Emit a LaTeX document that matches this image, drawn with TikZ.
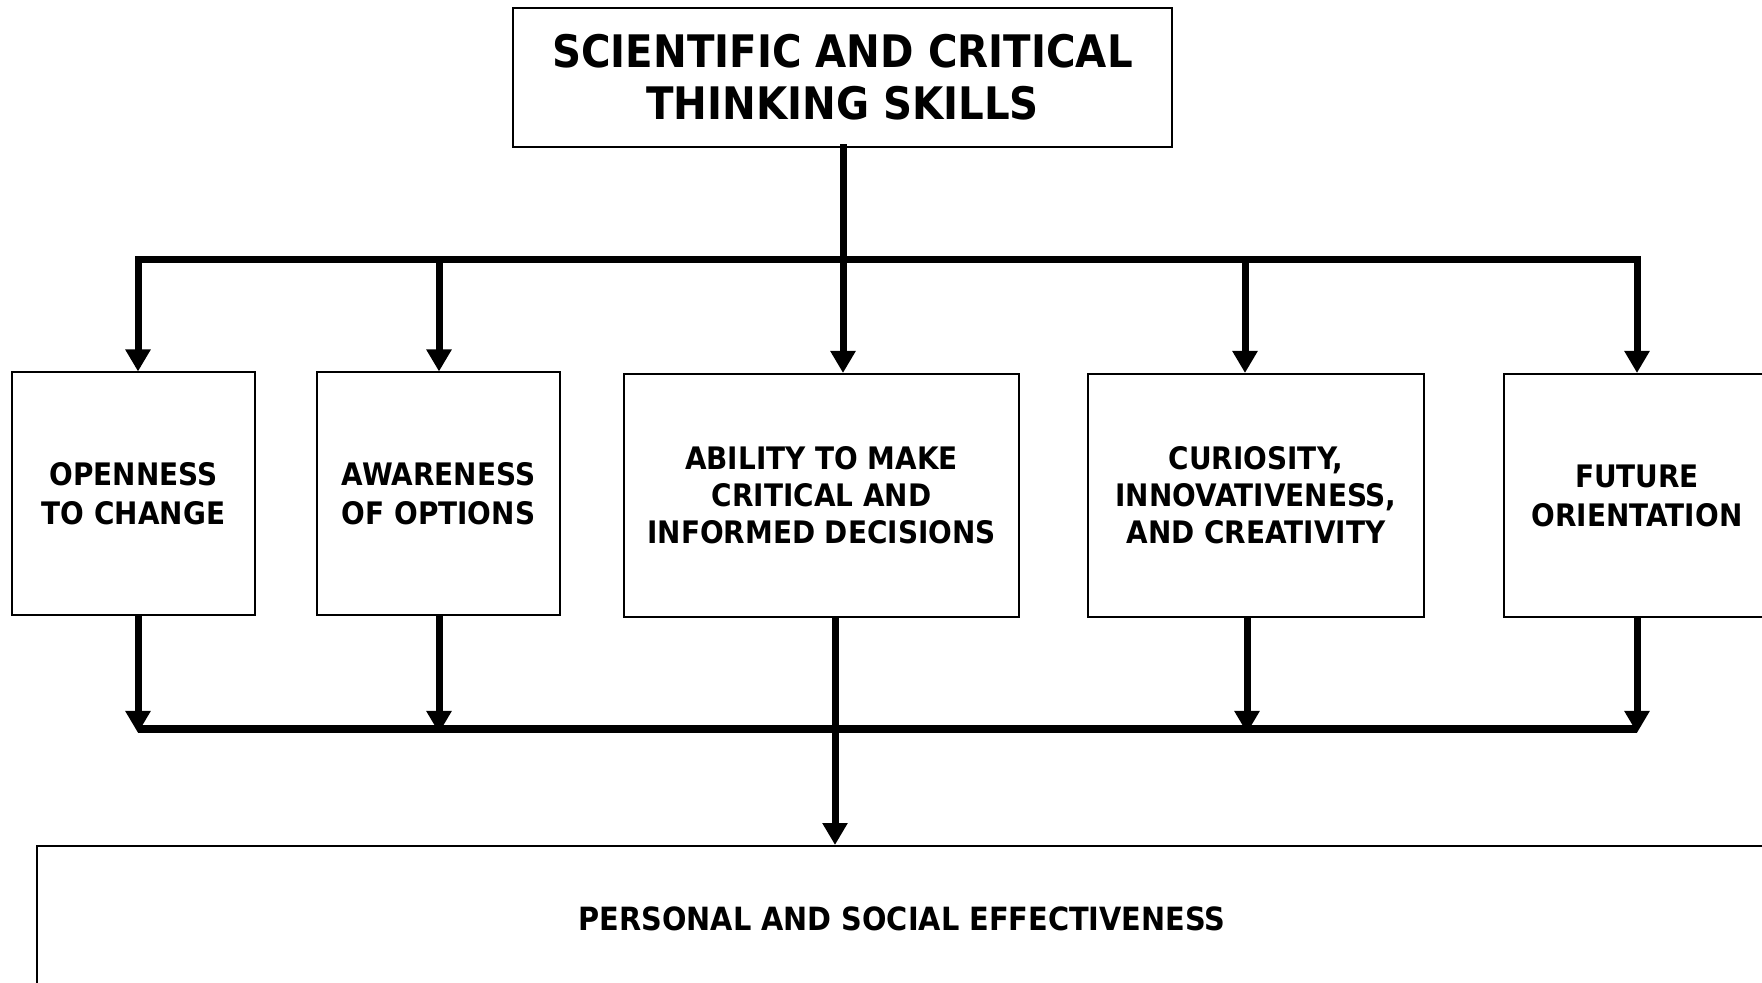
\documentclass[tikz,border=0pt]{standalone}
\usepackage{fontspec}
\setmainfont{DejaVu Sans}[FakeStretch=0.9]
\usetikzlibrary{arrows.meta}
\tikzset{
  skillbox/.style={draw, line width=1pt, inner sep=0pt, align=center,
    minimum height=121.5pt, font=\bfseries\fontsize{15.5}{18.5}\selectfont},
  flow/.style={line width=3.5pt, -{Triangle[length=11pt,width=12pt]}},
  bus/.style={line width=3.5pt, line cap=rect}
}
\begin{document}
\begin{tikzpicture}[x=0.5pt, y=-0.5pt]
  \useasboundingbox (0,0) rectangle (1762,983);
  \node[skillbox, minimum width=329.5pt, minimum height=69.5pt,
    font=\bfseries\fontsize{22.4}{25.9}\selectfont] (top) at (842.5,77.5)
    {SCIENTIFIC AND CRITICAL\\THINKING SKILLS};
  \node[skillbox, minimum width=121.5pt, font=\bfseries\fontsize{15.5}{19.5}\selectfont]
    (open) at (133.5,494) {OPENNESS\\TO CHANGE};
  \node[skillbox, minimum width=121.5pt, font=\bfseries\fontsize{15.5}{19.5}\selectfont]
    (aware) at (438.5,494) {AWARENESS\\OF OPTIONS};
  \node[skillbox, minimum width=197.5pt] (decide) at (821.5,495.5)
    {ABILITY TO MAKE\\CRITICAL AND\\INFORMED DECISIONS};
  \node[skillbox, minimum width=168pt] (curious) at (1256,495.5)
    {CURIOSITY,\\INNOVATIVENESS,\\AND CREATIVITY};
  \node[skillbox, minimum width=133pt, font=\bfseries\fontsize{15.5}{19.5}\selectfont]
    (future) at (1637,495.5) {FUTURE\\ORIENTATION};
  \node[skillbox, minimum width=865pt, minimum height=73pt,
    font=\bfseries\fontsize{16}{19}\selectfont] (effect) at (902,919)
    {PERSONAL AND SOCIAL EFFECTIVENESS};
  % upper bus
  \coordinate (t1) at (138,260);
  \coordinate (t2) at (439,260);
  \coordinate (t3) at (843,260);
  \coordinate (t4) at (1245,260);
  \coordinate (t5) at (1637,260);
  \draw[bus] (top.south -| t3) -- (t3);
  \draw[bus] (t1) -- (t5);
  \foreach \n/\i in {open/1, aware/2, decide/3, curious/4, future/5}
    \draw[flow] (t\i) -- (t\i |- \n.north);
  % lower bus
  \coordinate (b1) at (138,729);
  \coordinate (b2) at (439,729);
  \coordinate (b3) at (835,729);
  \coordinate (b4) at (1247,729);
  \coordinate (b5) at (1637,729);
  \draw[bus, line width=4pt, line cap=butt] (b1) -- (b5);
  \foreach \n/\i in {open/1, aware/2, curious/4, future/5}
    \draw[flow] (b\i |- \n.south) -- ([yshift=-2pt]b\i);
  \draw[flow] (b3 |- decide.south) -- (b3 |- effect.north);
\end{tikzpicture}
\end{document}
